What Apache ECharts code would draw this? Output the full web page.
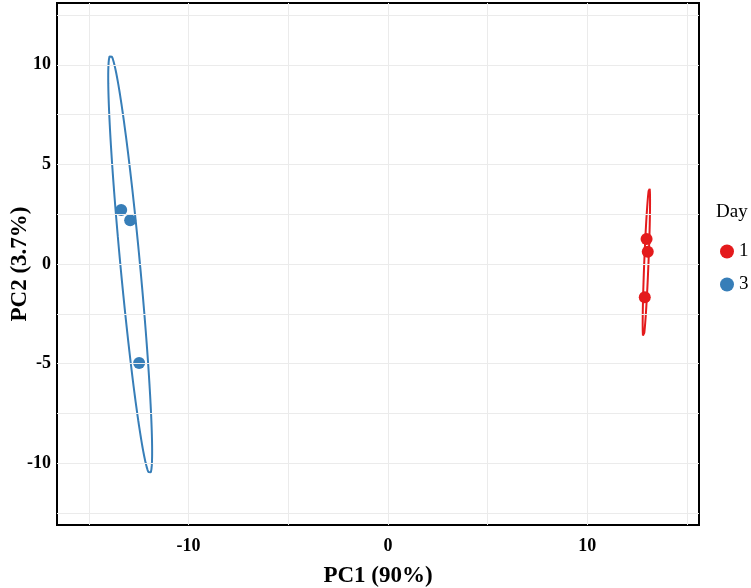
<!DOCTYPE html>
<html>
	<head>
		<meta charset="utf-8">
		<title></title>
		<script src="https://cdn.jsdelivr.net/npm/echarts@6/dist/echarts.min.js"></script>
	</head>
	<body style="margin:0">
		<div id="main" style="width:751px;height:588px;"></div>
		<script>
			// scores
			var pc1Day1 = [12.97, 13.03, 12.88];
			var pc2Day1 = [1.25, 0.62, -1.67];
			var pc1Day3 = [-13.38, -12.93, -12.48];
			var pc2Day3 = [2.71, 2.20, -4.97];
			var dayNames = ['1', '3'];
			var dayColors = ['#E41A1C', '#377EB8'];
			var xTicks = [-10, 0, 10];
			var yTicks = [-10, -5, 0, 5, 10];
			var xGrid = [-15, -10, -5, 0, 5, 10, 15];
			var yGrid = [-12.5, -10, -7.5, -5, -2.5, 0, 2.5, 5, 7.5, 10, 12.5];

			var serif = 'Liberation Serif';

			function pairs(xs, ys) {
				return xs.map(function(x, i) { return [x, ys[i]]; });
			}

			// normal-theory 95% ellipse from sample covariance
			function ellipse(xs, ys, level) {
				var n = xs.length;
				var mx = 0, my = 0;
				for (var i = 0; i < n; i++) { mx += xs[i]; my += ys[i]; }
				mx /= n; my /= n;
				var sxx = 0, syy = 0, sxy = 0;
				for (var i = 0; i < n; i++) {
					sxx += (xs[i] - mx) * (xs[i] - mx);
					syy += (ys[i] - my) * (ys[i] - my);
					sxy += (xs[i] - mx) * (ys[i] - my);
				}
				sxx /= n - 1; syy /= n - 1; sxy /= n - 1;
				var r = Math.sqrt(-2 * Math.log(1 - level));
				var a = Math.sqrt(sxx), b = sxy / a, c = Math.sqrt(syy - b * b);
				var out = [];
				for (var k = 0; k <= 200; k++) {
					var t = 2 * Math.PI * k / 200;
					out.push([mx + r * a * Math.cos(t), my + r * (b * Math.cos(t) + c * Math.sin(t))]);
				}
				return out;
			}

			var gridLines = xGrid.map(function(v) { return { xAxis: v }; })
				.concat(yGrid.map(function(v) { return { yAxis: v }; }));

			var myChart = echarts.init(document.getElementById('main'));
			var option = {
				animation: false,
				backgroundColor: '#fff',
				grid: {
					left: 57, right: 52, top: 3, bottom: 63,
					outerBoundsMode: 'none', containLabel: false,
					show: true, borderColor: '#000', borderWidth: 2
				},
				title: {
					text: 'Day',
					left: 711, top: 198,
					textStyle: { fontFamily: serif, fontSize: 19, fontWeight: 'normal', color: '#000' }
				},
				legend: {
					data: dayNames,
					orient: 'vertical',
					left: 715, top: 237,
					icon: 'circle',
					itemWidth: 14, itemHeight: 14,
					itemGap: 14,
					textStyle: { fontFamily: serif, fontSize: 19, color: '#000' }
				},
				xAxis: {
					type: 'value', min: -16.6, max: 15.6,
					name: 'PC1 (90%)', nameLocation: 'middle', nameGap: 40, nameMoveOverlap: false,
					nameTextStyle: { fontFamily: serif, fontSize: 23, fontWeight: 'bold', color: '#000' },
					axisLine: { show: false },
					splitLine: { show: false },
					axisTick: { show: true, customValues: xTicks, length: 4, lineStyle: { color: '#000' } },
					axisLabel: { customValues: xTicks, margin: 12, fontFamily: serif, fontSize: 18, fontWeight: 'bold', color: '#000' }
				},
				yAxis: {
					type: 'value', min: -13.1, max: 13.1,
					name: 'PC2 (3.7%)', nameLocation: 'middle', nameGap: 25, nameMoveOverlap: false,
					nameTextStyle: { fontFamily: serif, fontSize: 23, fontWeight: 'bold', color: '#000' },
					axisLine: { show: false },
					splitLine: { show: false },
					axisTick: { show: true, customValues: yTicks, length: 4, lineStyle: { color: '#000' } },
					axisLabel: { customValues: yTicks, margin: 6, fontFamily: serif, fontSize: 18, fontWeight: 'bold', color: '#000' }
				},
				series: [
					{
						name: 'grid', type: 'line', data: [], silent: true,
						markLine: {
							silent: true, symbol: ['none', 'none'], label: { show: false },
							lineStyle: { color: '#ebebeb', width: 1, type: 'solid' },
							data: gridLines
						}
					},
					{
						name: 'e1', type: 'line', data: ellipse(pc1Day1, pc2Day1, 0.95),
						showSymbol: false, silent: true, z: 3,
						lineStyle: { color: dayColors[0], width: 2 }
					},
					{
						name: 'e3', type: 'line', data: ellipse(pc1Day3, pc2Day3, 0.95),
						showSymbol: false, silent: true, z: 3,
						lineStyle: { color: dayColors[1], width: 2 }
					},
					{
						name: dayNames[0], type: 'scatter', data: pairs(pc1Day1, pc2Day1),
						symbolSize: 12, z: 4, itemStyle: { color: dayColors[0], opacity: 1 }
					},
					{
						name: dayNames[1], type: 'scatter', data: pairs(pc1Day3, pc2Day3),
						symbolSize: 12, z: 4, itemStyle: { color: dayColors[1], opacity: 1 }
					}
				]
			};
			myChart.setOption(option);
		</script>
	</body>
</html>
